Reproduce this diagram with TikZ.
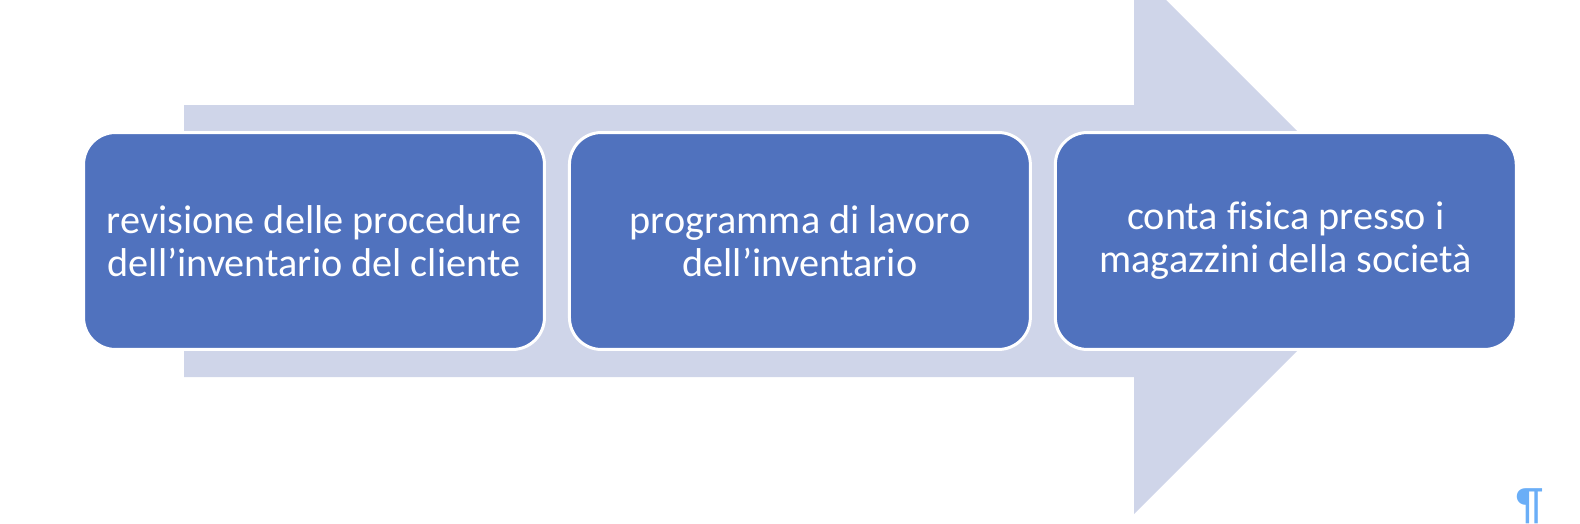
\documentclass[tikz,border=0pt]{standalone}
\usepackage{fontspec}
\setmainfont{Carlito}[Ligatures={TeX,NoCommon}]
\usetikzlibrary{positioning}
\definecolor{arrowgray}{HTML}{CFD5E9}
\definecolor{stepblue}{HTML}{5072BE}
\definecolor{markblue}{HTML}{6AAEF7}

\begin{document}
\begin{tikzpicture}[x=0.02cm, y=-0.02cm,
    stepbox/.style={rectangle, rounded corners=0.64cm, draw=white, line width=0.06cm, fill=stepblue, text=white, align=center, minimum width=9.22cm, minimum height=4.34cm, inner sep=0pt, font=\fontsize{22.9}{24.4}\selectfont}]
\useasboundingbox (0,0) rectangle (1580,524);
\clip (0,0) rectangle (1580,524);
\fill[arrowgray] (184,105) -- (1134,105) -- (1134,-32) -- (1407,241) -- (1134,514) -- (1134,377) -- (184,377) -- cycle;

\node[stepbox] (revisione) at (314,241) {revisione delle procedure\\dell’inventario del cliente};
\node[stepbox, right=0.44cm of revisione] (programma) {programma di lavoro\\dell’inventario};
\node[stepbox, right=0.44cm of programma] (conta) {conta fisica presso i\\magazzini della società};

\node[text=markblue, anchor=north, inner sep=0pt, font=\fontsize{26}{30}\selectfont] (pilcrow) at (1530,488) {¶};
\end{tikzpicture}
\end{document}
